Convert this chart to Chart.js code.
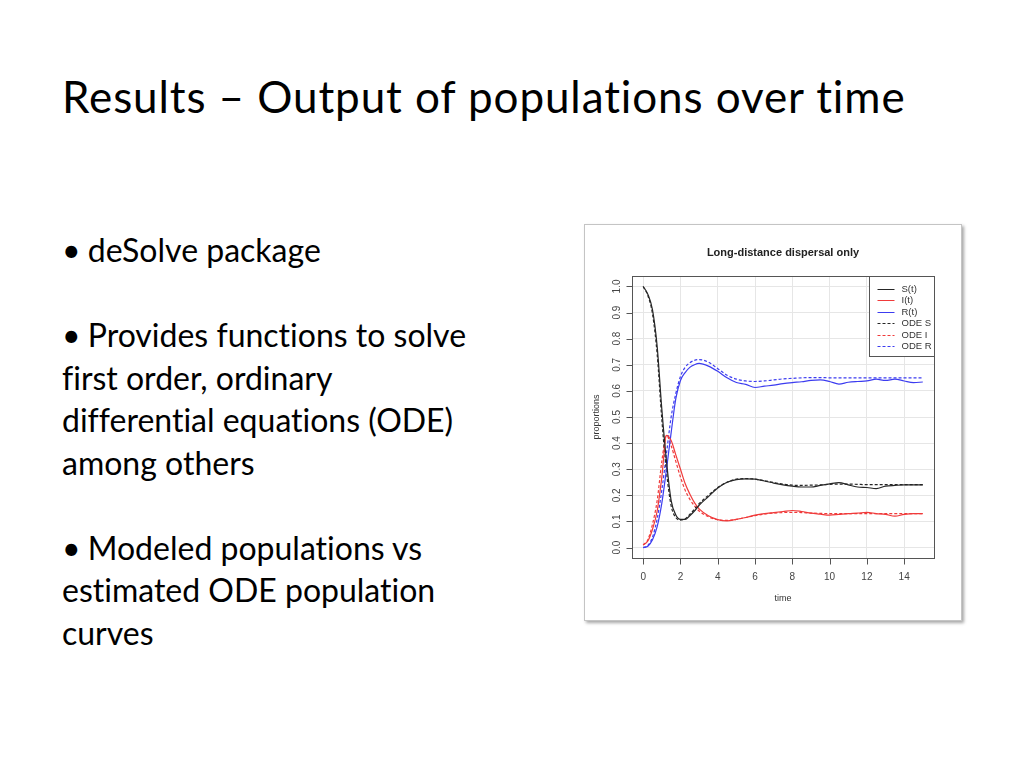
<!DOCTYPE html>
<html>
<head>
<meta charset="utf-8">
<script src="https://cdn.jsdelivr.net/npm/chart.js@4"></script>
<style>
  html, body { margin: 0; padding: 0; background: #fff; }
  body { width: 1024px; height: 768px; position: relative; overflow: hidden; font-family: Lato, "Open Sans", sans-serif; color: #000; font-variant-ligatures: none; }
  #title { position: absolute; left: 62px; top: 70px; font-size: 44px; line-height: 1.2; white-space: nowrap; letter-spacing: 0.9px; }
  #bullets { position: absolute; left: 62px; top: 229px; font-size: 32px; }
  #bullets div { height: 42.5px; line-height: 42.5px; white-space: nowrap; }
  #bullets .b { margin-right: -1px; }
  #frame { position: absolute; left: 584px; top: 224px; width: 376px; height: 395px; border: 1px solid #c4c4c4; background: #fff; box-shadow: 2px 2px 3px rgba(0,0,0,0.35); }
  #chart { display: block; }
</style>
</head>
<body>
<div id="title">Results – Output of populations over time</div>
<div id="bullets">
  <div><span class="b">•</span> deSolve package</div>
  <div></div>
  <div><span class="b">•</span> Provides functions to solve</div>
  <div>first order, ordinary</div>
  <div>differential equations (ODE)</div>
  <div>among others</div>
  <div></div>
  <div><span class="b">•</span> Modeled populations vs</div>
  <div>estimated ODE population</div>
  <div>curves</div>
</div>
<div id="frame"><canvas id="chart" width="376" height="395"></canvas></div>

<script>
// Data
const times = [0, 0.25, 0.5, 0.75, 1, 1.25, 1.5, 1.75, 2, 2.25, 2.5, 2.75, 3, 3.5, 4, 4.5, 5, 5.5, 6, 6.5, 7, 7.5, 8, 8.5, 9, 9.5, 10, 10.5, 11, 11.5, 12, 12.5, 13, 13.5, 14, 14.5, 15];

const simS = [1.0, 0.97, 0.91, 0.77, 0.53, 0.33, 0.18, 0.125, 0.108, 0.108, 0.122, 0.14, 0.162, 0.195, 0.228, 0.25, 0.26, 0.263, 0.262, 0.255, 0.247, 0.24, 0.235, 0.232, 0.232, 0.238, 0.244, 0.249, 0.24, 0.232, 0.23, 0.226, 0.235, 0.238, 0.24, 0.24, 0.24];
const simI = [0.01, 0.025, 0.07, 0.14, 0.27, 0.43, 0.41, 0.355, 0.30, 0.245, 0.205, 0.172, 0.148, 0.122, 0.107, 0.102, 0.108, 0.115, 0.124, 0.13, 0.134, 0.138, 0.142, 0.138, 0.132, 0.128, 0.124, 0.127, 0.13, 0.132, 0.135, 0.13, 0.127, 0.12, 0.127, 0.13, 0.13];
const simR = [0.0, 0.005, 0.03, 0.08, 0.17, 0.30, 0.44, 0.57, 0.64, 0.67, 0.69, 0.70, 0.705, 0.695, 0.675, 0.65, 0.632, 0.625, 0.613, 0.618, 0.622, 0.628, 0.632, 0.635, 0.64, 0.642, 0.636, 0.626, 0.633, 0.636, 0.638, 0.645, 0.64, 0.645, 0.638, 0.632, 0.634];

const odeS = [1.0, 0.965, 0.895, 0.74, 0.49, 0.29, 0.16, 0.115, 0.105, 0.11, 0.127, 0.147, 0.168, 0.2, 0.23, 0.25, 0.262, 0.264, 0.262, 0.256, 0.249, 0.243, 0.239, 0.238, 0.239, 0.24, 0.242, 0.243, 0.243, 0.242, 0.241, 0.241, 0.241, 0.241, 0.241, 0.241, 0.241];
const odeI = [0.01, 0.03, 0.09, 0.18, 0.33, 0.43, 0.39, 0.33, 0.27, 0.22, 0.185, 0.16, 0.14, 0.118, 0.106, 0.104, 0.108, 0.115, 0.122, 0.128, 0.132, 0.134, 0.135, 0.134, 0.132, 0.131, 0.13, 0.13, 0.13, 0.13, 0.13, 0.13, 0.13, 0.13, 0.13, 0.13, 0.13];
const odeR = [0.0, 0.008, 0.04, 0.11, 0.22, 0.36, 0.50, 0.59, 0.655, 0.69, 0.708, 0.717, 0.72, 0.71, 0.685, 0.66, 0.645, 0.638, 0.636, 0.638, 0.642, 0.646, 0.648, 0.65, 0.651, 0.651, 0.65, 0.65, 0.65, 0.65, 0.65, 0.65, 0.65, 0.65, 0.65, 0.65, 0.65];

const xTicks = [0, 2, 4, 6, 8, 10, 12, 14];
const yTicks = [0.0, 0.1, 0.2, 0.3, 0.4, 0.5, 0.6, 0.7, 0.8, 0.9, 1.0];
const seriesNames = ['S(t)', 'I(t)', 'R(t)', 'ODE S', 'ODE I', 'ODE R'];

const BLACK = '#262626';
const RED = '#f03a3a';
const BLUE = '#3c3cf0';
const DASH = [3, 2];

function pts(ys) {
  return times.map((t, i) => ({ x: t, y: ys[i] }));
}

function series(label, ys, color, dash) {
  return {
    label: label,
    data: pts(ys),
    borderColor: color,
    borderWidth: 1.2,
    borderDash: dash,
    pointRadius: 0,
    fill: false,
    cubicInterpolationMode: 'monotone'
  };
}

// Base-R style decorations: box, ticks, labels, title, legend
const rStyle = {
  id: 'rStyle',
  afterDraw(chart) {
    const ctx = chart.ctx;
    const a = chart.chartArea;
    const xs = chart.scales.x;
    const ys = chart.scales.y;
    ctx.save();
    ctx.strokeStyle = '#555';
    ctx.lineWidth = 1;
    ctx.strokeRect(Math.round(a.left) + 0.5, Math.round(a.top) + 0.5, Math.round(a.right - a.left), Math.round(a.bottom - a.top));

    // x axis ticks and labels
    ctx.fillStyle = '#444';
    ctx.font = '10px "Liberation Sans", Arial, sans-serif';
    ctx.textAlign = 'center';
    ctx.textBaseline = 'middle';
    const xb = Math.round(a.bottom) + 0.5;
    ctx.beginPath();
    ctx.moveTo(xs.getPixelForValue(xTicks[0]), xb);
    ctx.lineTo(xs.getPixelForValue(xTicks[xTicks.length - 1]), xb);
    xTicks.forEach(v => {
      const px = Math.round(xs.getPixelForValue(v)) + 0.5;
      ctx.moveTo(px, xb);
      ctx.lineTo(px, xb + 6);
    });
    ctx.stroke();
    xTicks.forEach(v => {
      ctx.fillText(String(v), xs.getPixelForValue(v), a.bottom + 19);
    });

    // y axis ticks and labels (rotated like R's default)
    const yl = Math.round(a.left) + 0.5;
    ctx.beginPath();
    ctx.moveTo(yl, ys.getPixelForValue(yTicks[0]));
    ctx.lineTo(yl, ys.getPixelForValue(yTicks[yTicks.length - 1]));
    yTicks.forEach(v => {
      const py = Math.round(ys.getPixelForValue(v)) + 0.5;
      ctx.moveTo(yl, py);
      ctx.lineTo(yl - 6, py);
    });
    ctx.stroke();
    yTicks.forEach(v => {
      ctx.save();
      ctx.translate(a.left - 15, ys.getPixelForValue(v));
      ctx.rotate(-Math.PI / 2);
      ctx.fillText(v.toFixed(1), 0, 0);
      ctx.restore();
    });

    // axis titles
    ctx.fillStyle = '#333';
    ctx.font = '9px "Liberation Sans", Arial, sans-serif';
    ctx.fillText('time', (a.left + a.right) / 2, a.bottom + 41);
    ctx.save();
    ctx.translate(a.left - 35, (a.top + a.bottom) / 2);
    ctx.rotate(-Math.PI / 2);
    ctx.fillText('proportions', 0, 0);
    ctx.restore();

    // main title
    ctx.fillStyle = '#222';
    ctx.font = 'bold 11px "Liberation Sans", Arial, sans-serif';
    ctx.fillText('Long-distance dispersal only', (a.left + a.right) / 2, a.top - 23);

    // legend
    const sets = chart.data.datasets;
    const lw = 65, lh = 80;
    const lx = Math.round(a.right) - lw + 0.5, ly = Math.round(a.top) + 0.5;
    ctx.fillStyle = '#fff';
    ctx.fillRect(lx, ly, lw, lh);
    ctx.strokeStyle = '#555';
    ctx.lineWidth = 1;
    ctx.strokeRect(lx, ly, lw, lh);
    ctx.font = '9.5px "Liberation Sans", Arial, sans-serif';
    ctx.textAlign = 'left';
    sets.forEach((ds, i) => {
      const y = Math.round(ly + 12 + i * 11.5) + 0.5;
      ctx.strokeStyle = ds.borderColor;
      ctx.setLineDash(ds.borderDash || []);
      ctx.beginPath();
      ctx.moveTo(lx + 8, y);
      ctx.lineTo(lx + 25, y);
      ctx.stroke();
      ctx.setLineDash([]);
      ctx.fillStyle = '#333';
      ctx.fillText(ds.label, lx + 32, y);
    });
    ctx.restore();
  }
};

const chart = new Chart(document.getElementById('chart').getContext('2d'), {
  type: 'line',
  data: {
    datasets: [
      series(seriesNames[0], simS, BLACK, []),
      series(seriesNames[1], simI, RED, []),
      series(seriesNames[2], simR, BLUE, []),
      series(seriesNames[3], odeS, BLACK, DASH),
      series(seriesNames[4], odeI, RED, DASH),
      series(seriesNames[5], odeR, BLUE, DASH)
    ]
  },
  options: {
    responsive: false,
    animation: false,
    devicePixelRatio: 1,
    layout: { padding: { top: 51, right: 27, left: 0, bottom: 0 } },
    plugins: { legend: { display: false }, tooltip: { enabled: false } },
    scales: {
      x: {
        type: 'linear',
        min: -0.6,
        max: 15.6,
        afterBuildTicks: s => { s.ticks = xTicks.map(v => ({ value: v })); },
        afterFit: s => { s.height = 62; },
        ticks: { display: false },
        border: { display: false },
        grid: { color: '#e6e6e6', lineWidth: 1, drawTicks: false }
      },
      y: {
        type: 'linear',
        min: -0.04,
        max: 1.04,
        afterBuildTicks: s => { s.ticks = yTicks.map(v => ({ value: v })); },
        afterFit: s => { s.width = 47; },
        ticks: { display: false },
        border: { display: false },
        grid: { color: '#e6e6e6', lineWidth: 1, drawTicks: false }
      }
    }
  },
  plugins: [rStyle]
});
</script>
</body>
</html>
